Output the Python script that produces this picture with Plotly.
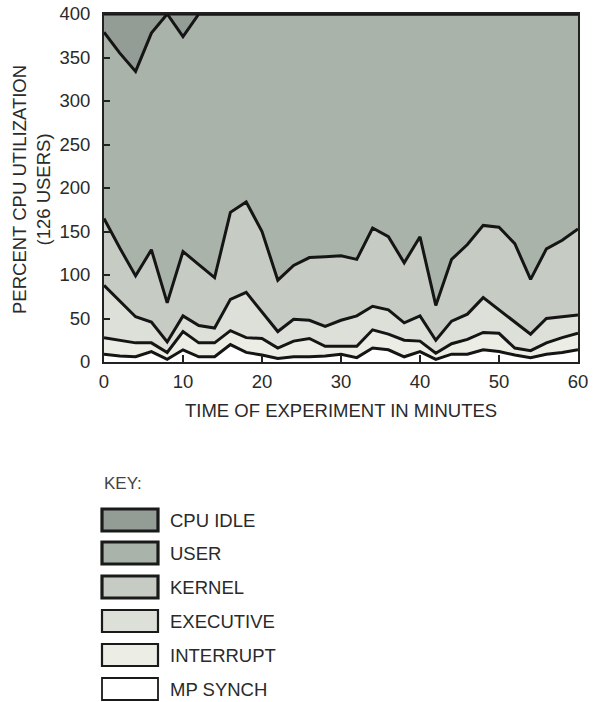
import plotly.graph_objects as go

# ---- data ----
minutes = [0, 2, 4, 6, 8, 10, 12, 14, 16, 18, 20, 22, 24, 26, 28, 30,
           32, 34, 36, 38, 40, 42, 44, 46, 48, 50, 52, 54, 56, 58, 60]

mp_synch = [9, 7, 6, 12, 3, 14, 6, 6, 20, 11, 8, 4, 6, 6, 7, 9,
            5, 16, 14, 6, 12, 3, 9, 9, 14, 12, 8, 5, 9, 11, 14]
interrupt = [19, 18, 16, 10, 8, 21, 16, 16, 16, 17, 19, 12, 18, 21, 11, 9,
             13, 21, 18, 19, 12, 7, 12, 17, 20, 21, 8, 8, 13, 17, 19]
executive = [60, 45, 30, 24, 12, 18, 20, 17, 36, 52, 30, 19, 25, 21, 23, 30,
             35, 27, 28, 20, 29, 15, 26, 29, 40, 27, 30, 19, 28, 24, 21]
kernel = [77, 61, 47, 83, 45, 74, 70, 58, 100, 104, 93, 59, 62, 72, 80, 74,
          65, 90, 84, 69, 91, 40, 71, 80, 83, 95, 90, 63, 80, 88, 99]
user = [214, 224, 235, 249, 332, 247, 288, 303, 228, 216, 250, 306, 289, 280, 279, 278,
        282, 246, 256, 286, 256, 335, 282, 265, 243, 245, 264, 305, 270, 260, 247]
cpu_idle = [21, 45, 66, 22, 0, 26, 0, 0, 0, 0, 0, 0, 0, 0, 0, 0,
            0, 0, 0, 0, 0, 0, 0, 0, 0, 0, 0, 0, 0, 0, 0]

series_names = ["MP SYNCH", "INTERRUPT", "EXECUTIVE", "KERNEL", "USER", "CPU IDLE"]
series_values = [mp_synch, interrupt, executive, kernel, user, cpu_idle]
series_colors = ["#ffffff", "#eceee6", "#dce0d9", "#c6ccc4", "#aab3aa", "#939d95"]

x_ticks = [0, 10, 20, 30, 40, 50, 60]
y_ticks = [0, 50, 100, 150, 200, 250, 300, 350, 400]

W, H = 595, 702
L, R, T, B = 104, 17, 14, 340
PW, PH = W - L - R, H - T - B
FONT = "Liberation Sans"
FS = 18.5
TXT = "#2a2a2a"
LINE = "#151515"


def px(xp):
    return (xp - L) / PW


def py(yp):
    return (H - B - yp) / PH


fig = go.Figure()
for name, vals, col in zip(series_names, series_values, series_colors):
    fig.add_trace(go.Scatter(
        x=minutes, y=vals, name=name, mode="lines",
        stackgroup="one", fillcolor=col,
        line=dict(color=LINE, width=3),
        showlegend=False,
    ))

axis_common = dict(
    showgrid=False, zeroline=False, showline=True, mirror=True,
    linecolor="#222222", linewidth=2, automargin=False,
    ticks="inside", tickcolor="#222222", tickwidth=1.5,
    tickfont=dict(family=FONT, size=FS, color=TXT),
)

fig.update_xaxes(range=[0, 60], tickvals=x_ticks, ticklen=7,
                 ticklabelstandoff=2, **axis_common)
fig.update_yaxes(range=[0, 400], tickvals=y_ticks, ticklen=6,
                 ticklabelstandoff=8, **axis_common)

annotations = [
    dict(text="TIME OF EXPERIMENT IN MINUTES", x=px(341), y=py(410),
         xref="paper", yref="paper", showarrow=False, xanchor="center",
         yanchor="middle", font=dict(family=FONT, size=FS, color=TXT)),
    dict(text="PERCENT CPU UTILIZATION<br>(126 USERS)", x=px(31), y=py(190),
         xref="paper", yref="paper", showarrow=False, xanchor="center",
         yanchor="middle", textangle=-90,
         font=dict(family=FONT, size=FS, color=TXT)),
    dict(text="KEY:", x=px(102), y=py(483), xref="paper", yref="paper",
         showarrow=False, xanchor="left", yanchor="middle",
         font=dict(family=FONT, size=17, color="#444444")),
]

shapes = []
key_order = list(zip(series_names, series_colors))[::-1]
box_tops = [509, 542, 576, 610, 644, 678]
box_widths = [3.2, 3.2, 3.2, 2.2, 2.2, 1.8]
for (name, col), top, bw in zip(key_order, box_tops, box_widths):
    shapes.append(dict(type="rect", xref="paper", yref="paper",
                       x0=px(102), x1=px(158), y0=py(top), y1=py(top + 22),
                       fillcolor=col, line=dict(color="#1a1a1a", width=bw)))
    annotations.append(dict(text=name, x=px(168), y=py(top + 11),
                            xref="paper", yref="paper", showarrow=False,
                            xanchor="left", yanchor="middle",
                            font=dict(family=FONT, size=FS, color=TXT)))

fig.update_layout(
    width=W, height=H,
    margin=dict(l=L, r=R, t=T, b=B),
    paper_bgcolor="white", plot_bgcolor="white",
    annotations=annotations, shapes=shapes,
    showlegend=False,
)

fig.write_html("out.html")
